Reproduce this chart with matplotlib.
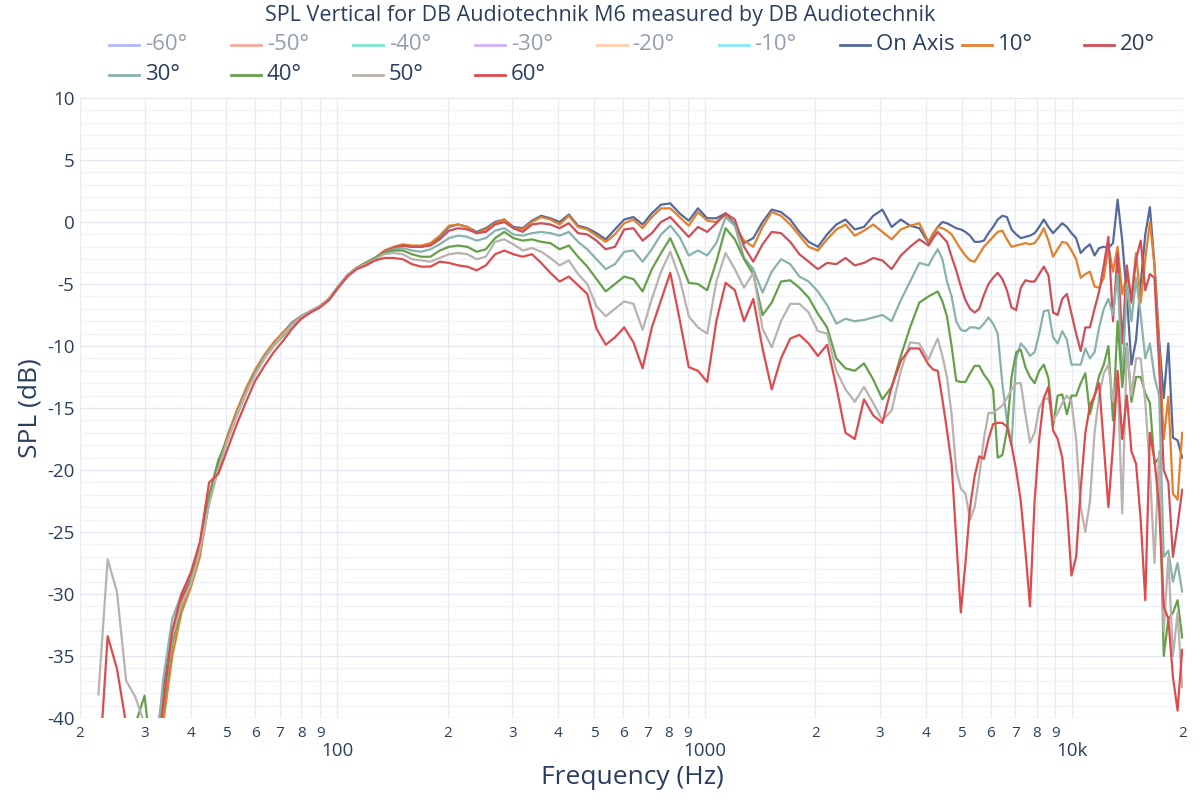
import matplotlib
matplotlib.use("Agg")
import matplotlib.pyplot as plt
from matplotlib.lines import Line2D

plt.rcParams['font.family'] = ['Open Sans', 'DejaVu Sans']

TITLE = "SPL Vertical for DB Audiotechnik M6 measured by DB Audiotechnik"
X_LABEL = "Frequency (Hz)"
Y_LABEL = "SPL (dB)"

freq = [
    22.45, 23.78, 25.20, 26.70, 28.28, 29.97, 31.75, 33.64, 35.64, 37.76,
    40.00, 42.38, 44.90, 47.57, 50.40, 53.39, 56.57, 59.93, 63.50, 67.27,
    71.27, 75.51, 80.00, 84.76, 89.80, 95.14, 100.8, 106.8, 113.1, 119.9,
    127.0, 134.5, 142.5, 151.0, 160.0, 169.5, 179.6, 190.3, 201.6, 213.6,
    226.3, 239.7, 254.0, 269.1, 285.1, 302.0, 320.0, 339.0, 359.2, 380.5,
    403.2, 427.1, 452.5, 479.5, 508.0, 538.2, 570.2, 604.1, 640.0, 678.1,
    718.4, 761.1, 806.3, 854.3, 905.1, 958.9, 1016, 1076, 1140, 1208,
    1280, 1356, 1437, 1522, 1613, 1709, 1810, 1918, 2032, 2153,
    2281, 2416, 2560, 2712, 2874, 3044, 3225, 3417, 3620, 3836,
    4064, 4183, 4305, 4432, 4561, 4695, 4833, 4974, 5120, 5270,
    5424, 5583, 5747, 5915, 6089, 6267, 6451, 6640, 6834, 7034,
    7241, 7453, 7671, 7896, 8127,
    8365, 8611, 8863, 9123, 9390, 9665, 9948, 10240, 10540, 10849,
    11167, 11494, 11830, 12177, 12534, 12902, 13280, 13669, 14069, 14482,
    14906, 15343, 15792, 16255, 16731, 17222, 17726, 18245, 18780, 19330,
    19896,
]

on_axis = [
    -45, -45, -45, -45, -45, -45, -43, -38.0, -33.0, -30.3,
    -28.8, -26.5, -22.5, -19.6, -17.3, -15.3, -13.5, -12.0, -10.8, -9.8,
    -9.0, -8.1, -7.6, -7.2, -6.8, -6.2, -5.2, -4.3, -3.7, -3.3,
    -2.9, -2.4, -2.1, -1.9, -2.0, -2.0, -1.8, -1.2, -0.4, -0.2,
    -0.4, -0.8, -0.5, 0.0, 0.2, -0.4, -0.5, 0.1, 0.5, 0.3,
    0.0, 0.6, -0.3, -0.5, -0.9, -1.4, -0.6, 0.2, 0.4, -0.2,
    0.7, 1.4, 1.5, 0.7, 0.1, 1.1, 0.3, 0.3, 0.7, -0.2,
    -1.7, -1.3, 0.0, 1.0, 0.8, 0.2, -0.8, -1.6, -2.0, -1.0,
    -0.2, 0.2, -0.6, -0.4, 0.5, 1.0, -0.4, 0.2, -0.3, -0.5,
    -1.7, -1.0, -0.4, 0.0, -0.1, -0.3, -0.5, -0.6, -0.8, -1.1,
    -1.6, -1.6, -1.5, -0.9, -0.4, 0.2, 0.5, 0.4, -0.6, -1.0,
    -1.3, -1.2, -1.1, -0.9, -0.4,
    0.2, -0.4, -0.9, -0.5, -0.1, -0.4, -0.9, -1.3, -2.5, -2.1,
    -1.8, -2.7, -2.1, -2.0, -2.1, -1.7, 1.8, -1.5, -6.0, -11.5,
    -9.5, -5.0, -1.0, 1.2, -3.5, -9.5, -14.2, -9.8, -17.4, -17.6,
    -19.0,
]

deg10 = [
    -45, -45, -45, -45, -45, -45, -45, -40.5, -35.0, -31.5,
    -29.5, -27.0, -22.5, -19.5, -17.2, -15.2, -13.4, -11.9, -10.7, -9.7,
    -8.9, -8.1, -7.6, -7.2, -6.8, -6.2, -5.2, -4.3, -3.7, -3.3,
    -2.9, -2.3, -2.0, -1.8, -1.9, -1.9, -1.7, -1.1, -0.3, -0.2,
    -0.4, -0.9, -0.6, -0.1, 0.2, -0.5, -0.6, 0.0, 0.4, 0.2,
    -0.2, 0.5, -0.4, -0.6, -1.1, -1.6, -1.0, -0.1, 0.2, -0.5,
    0.4, 1.1, 1.1, 0.4, -0.3, 0.8, 0.1, 0.0, 0.6, -0.3,
    -1.5, -2.0, -0.4, 0.8, 0.5, -0.2, -1.1, -2.0, -2.3, -1.4,
    -0.6, -0.2, -1.1, -0.7, -0.2, -0.8, -1.4, -0.6, -0.3, -0.1,
    -1.6, -0.9, -0.4, -0.5, -0.7, -1.0, -1.6, -2.2, -2.7, -3.1,
    -3.2, -2.6, -2.0, -1.6, -1.2, -0.8, -0.7, -1.4, -2.0, -1.9,
    -1.8, -1.7, -1.8, -1.7, -1.2,
    -0.5, -1.5, -2.8, -2.2, -1.6, -1.7, -2.3, -3.0, -4.5, -4.2,
    -4.0, -5.2, -5.3, -4.5, -2.0, -4.0, -2.0, -5.8, -4.3, -6.0,
    -2.5, -6.5, -3.0, 0.0, -3.5, -10.0, -17.5, -14.1, -21.9, -22.4,
    -17.0,
]

deg20 = [
    -45, -45, -45, -45, -45, -45, -45, -38.5, -33.5, -30.5,
    -28.8, -26.3, -22.5, -19.7, -17.5, -15.5, -13.7, -12.1, -10.9, -9.9,
    -9.1, -8.2, -7.6, -7.2, -6.8, -6.2, -5.2, -4.3, -3.7, -3.3,
    -2.9, -2.4, -2.1, -1.9, -2.0, -2.0, -1.9, -1.4, -0.7, -0.5,
    -0.6, -0.9, -0.8, -0.2, 0.0, -0.5, -0.8, -0.2, -0.1, -0.2,
    -0.5, -0.1, -0.9, -1.0, -1.5, -2.2, -2.0, -0.6, -0.5, -1.5,
    -0.9, 0.0, 0.4, -0.4, -1.2, -0.4, -0.8, -0.1, 0.7, 0.2,
    -2.0, -3.2, -1.8, -0.8, -0.9, -1.6, -2.6, -3.2, -3.8, -3.3,
    -3.4, -2.9, -3.5, -3.3, -2.9, -3.1, -3.8, -2.7, -2.0, -1.4,
    -1.9, -1.3, -0.8, -1.2, -1.6, -2.8, -3.9, -5.2, -6.3, -7.0,
    -7.3, -7.0, -5.9, -5.0, -4.5, -4.1, -4.6, -5.5, -6.9, -7.1,
    -5.3, -4.7, -4.8, -4.8, -4.2,
    -3.6, -4.3, -7.3, -7.5, -6.2, -5.8, -7.4, -9.0, -10.4, -8.5,
    -8.5, -7.0, -5.6, -3.5, -1.2, -8.0, -2.5, -9.8, -3.5, -6.5,
    -3.0, -1.5, -5.5, -4.2, -4.5, -11.5, -20.0, -21.0, -27.0, -24.5,
    -21.6,
]

deg30 = [
    -45, -45, -45, -45, -45, -45, -45, -37.0, -32.0, -30.0,
    -28.5, -26.2, -22.6, -19.8, -17.6, -15.5, -13.7, -12.1, -10.9, -9.9,
    -9.1, -8.2, -7.6, -7.2, -6.8, -6.2, -5.2, -4.3, -3.7, -3.3,
    -2.9, -2.5, -2.2, -2.1, -2.3, -2.4, -2.2, -1.8, -1.3, -1.1,
    -1.2, -1.5, -1.3, -0.7, -0.5, -1.0, -1.1, -0.9, -0.8, -0.9,
    -1.1, -0.8, -1.6, -2.2, -3.0, -3.8, -3.4, -2.4, -2.3, -3.2,
    -2.2, -1.0, -0.3, -1.2, -2.7, -2.3, -2.7, -1.7, 0.4, -0.3,
    -2.9, -3.8, -5.7, -4.0, -3.0, -3.4, -4.4, -4.8, -5.6, -6.7,
    -8.2, -7.8, -8.0, -7.9, -7.7, -7.5, -8.0, -6.3, -4.8, -3.3,
    -3.5, -2.8, -2.2, -3.0, -4.8, -6.0, -8.0, -8.7, -8.8, -8.5,
    -8.5, -8.6, -8.2, -7.7, -8.2, -9.0, -13.0, -16.0, -18.0, -11.0,
    -9.8, -10.2, -10.8, -10.5, -9.0,
    -7.2, -7.1, -9.3, -9.8, -8.8, -9.5, -11.5, -11.5, -11.5, -10.2,
    -11.0, -10.5, -8.5, -7.0, -6.2, -7.5, -4.2, -13.0, -5.0, -8.0,
    -4.5, -7.5, -11.0, -9.8, -12.5, -14.0, -27.0, -26.5, -29.0, -27.5,
    -29.8,
]

deg40 = [
    -45, -45, -45, -45, -40.5, -38.2, -45, -39.5, -34.0, -31.0,
    -29.0, -26.0, -22.0, -19.2, -17.5, -15.6, -13.8, -12.2, -11.0, -10.0,
    -9.2, -8.3, -7.7, -7.2, -6.8, -6.2, -5.2, -4.3, -3.7, -3.3,
    -2.9, -2.5, -2.3, -2.3, -2.6, -2.8, -2.8, -2.3, -2.0, -1.9,
    -2.0, -2.4, -2.2, -1.3, -0.8, -1.3, -1.5, -1.4, -1.6, -1.7,
    -2.2, -1.9, -2.8, -3.6, -4.6, -5.6, -5.0, -4.4, -4.6, -5.6,
    -3.8, -2.5, -1.3, -3.0, -4.9, -5.0, -5.5, -3.2, -0.5, -1.4,
    -3.0, -4.2, -7.5, -6.5, -4.8, -4.7, -5.3, -6.1, -7.4, -8.5,
    -11.0, -11.8, -12.0, -11.4, -12.7, -14.3, -13.3, -10.8, -8.5, -6.5,
    -6.0, -5.8, -5.6, -6.4, -7.6, -10.0, -12.8, -12.9, -12.9, -12.2,
    -11.6, -11.6, -12.3, -12.8, -13.5, -19.0, -18.8, -16.8, -12.5, -10.5,
    -10.3, -11.7, -12.5, -13.0, -12.0,
    -11.5, -12.6, -16.5, -14.0, -13.9, -15.5, -14.0, -14.0, -13.0, -12.2,
    -15.5, -14.0, -12.4, -11.5, -10.0, -16.0, -8.0, -13.3, -9.8, -14.5,
    -12.5, -12.5, -13.8, -14.6, -19.5, -19.0, -35.0, -32.0, -31.5, -30.5,
    -33.5,
]

deg50 = [
    -38.1, -27.2, -29.8, -37.0, -38.3, -40.5, -45, -39.0, -33.5, -30.8,
    -29.2, -26.5, -22.8, -19.9, -17.6, -15.6, -13.8, -12.3, -11.0, -10.0,
    -9.1, -8.3, -7.7, -7.2, -6.8, -6.2, -5.2, -4.3, -3.7, -3.4,
    -3.0, -2.6, -2.5, -2.6, -3.0, -3.1, -3.2, -2.9, -2.6, -2.5,
    -2.6, -3.0, -2.8, -1.6, -1.4, -1.8, -2.3, -2.1, -2.4, -2.9,
    -3.5, -3.1, -4.2, -5.0, -6.8, -7.6, -7.0, -6.4, -6.6, -8.7,
    -6.2, -4.0, -2.4, -4.5, -7.6, -8.5, -9.0, -4.8, -2.5, -3.8,
    -5.3, -4.1, -8.6, -10.1, -8.0, -6.6, -6.6, -7.3, -8.8, -9.0,
    -12.0, -13.5, -14.5, -13.3, -14.6, -16.0, -15.2, -12.0, -9.7, -9.8,
    -11.1, -10.2, -9.4, -10.8, -12.5, -15.5, -20.0, -21.5, -21.9, -24.0,
    -23.0, -20.5, -17.5, -15.4, -15.4, -15.1, -14.8, -14.2, -13.5, -13.0,
    -13.0, -15.5, -17.8, -17.0, -15.0,
    -14.3, -14.2, -16.0, -15.4, -14.6, -14.0, -14.5, -17.5, -23.0, -25.0,
    -22.5, -17.0, -14.0, -12.2, -11.5, -14.5, -12.5, -23.5, -10.0, -14.0,
    -11.0, -11.0, -14.5, -20.0, -27.5, -18.5, -33.0, -27.0, -35.0, -31.5,
    -37.5,
]

deg60 = [
    -45, -33.4, -36.0, -40.5, -45, -45, -45, -39.0, -33.0, -30.0,
    -28.3, -25.8, -21.0, -20.3, -18.3, -16.3, -14.5, -12.8, -11.6, -10.5,
    -9.6, -8.6, -7.8, -7.3, -6.9, -6.3, -5.3, -4.4, -3.8, -3.5,
    -3.1, -2.9, -2.9, -3.0, -3.4, -3.6, -3.6, -3.2, -3.3, -3.5,
    -3.6, -3.9, -3.5, -2.6, -2.3, -2.6, -2.8, -2.6, -3.3, -4.1,
    -4.8, -4.4, -5.1, -5.8, -8.6, -9.9, -9.3, -8.5, -9.7, -11.8,
    -8.5, -6.3, -4.1, -7.8, -11.7, -12.0, -12.9, -8.0, -4.9, -5.5,
    -8.0, -6.2, -10.2, -13.5, -11.0, -9.4, -9.1, -9.8, -10.8, -9.9,
    -13.3, -17.0, -17.5, -14.3, -15.6, -16.2, -13.3, -11.2, -10.2, -10.2,
    -11.5, -11.9, -12.0, -14.3, -16.8, -19.5, -25.5, -31.5, -27.5, -23.0,
    -20.5, -18.9, -19.1, -17.5, -16.3, -16.2, -16.2, -16.5, -18.0, -20.0,
    -22.5, -26.5, -31.0, -22.5, -17.5,
    -14.2, -13.3, -16.8, -17.5, -19.0, -23.0, -28.5, -27.0, -21.5, -17.0,
    -14.8, -14.0, -13.0, -18.0, -23.0, -18.0, -12.0, -17.5, -14.0, -18.5,
    -19.5, -24.0, -30.5, -17.0, -19.2, -23.0, -31.0, -32.0, -36.7, -39.4,
    -34.5,
]

hidden_labels = ['-60°', '-50°', '-40°', '-30°', '-20°', '-10°']
hidden_colors = ['#636efa', '#EF553B', '#00cc96', '#ab63fa', '#FFA15A', '#19d3f3']

visible_labels = ['On Axis', '10°', '20°', '30°', '40°', '50°', '60°']
visible_series = [on_axis, deg10, deg20, deg30, deg40, deg50, deg60]
visible_colors = ['#56699c', '#e2802c', '#cf4f58', '#89b2aa', '#66a049', '#b9b2ae', '#df4a4c']

for s in visible_series:
    assert len(s) == len(freq), (len(s), len(freq))

TEXT = '#2a3f5f'
W, H = 1200, 800
fig = plt.figure(figsize=(12, 8), dpi=100)
ax = fig.add_axes([80 / W, 1 - 718 / H, 1103 / W, 620 / H])
ax.set_xscale('log')
ax.set_xlim(20, 20000)
ax.set_ylim(-40, 10)
for sp in ax.spines.values():
    sp.set_visible(False)

# ticks and grid
major_x = [100, 1000, 10000]
major_x_lbl = ['100', '1000', '10k']
minor_x = [m * d for d in (10, 100, 1000) for m in range(2, 10)] + [20000]
minor_x = [v for v in minor_x if v >= 20]
minor_x_lbl = [str(int(v))[0] for v in minor_x]
ax.set_xticks(major_x)
ax.set_xticklabels(major_x_lbl)
ax.set_xticks(minor_x, minor=True)
ax.set_xticklabels(minor_x_lbl, minor=True)
ax.set_yticks(list(range(-40, 11, 5)))
ax.set_yticklabels([str(v) for v in range(-40, 11, 5)])
ax.set_yticks(list(range(-40, 11, 1)), minor=True)

ax.tick_params(axis='x', which='major', length=0, pad=17, labelsize=13.5, colors=TEXT)
ax.tick_params(axis='x', which='minor', length=0, pad=6, labelsize=11, colors=TEXT)
ax.tick_params(axis='y', which='both', length=0, pad=4, labelsize=13.5, colors=TEXT)

ax.grid(True, axis='x', which='both', color='#e6ebf2', linewidth=1.0)
ax.grid(True, axis='y', which='major', color='#e3e8f0', linewidth=1.0)
ax.grid(True, axis='y', which='minor', color='#eff2f7', linewidth=1.0)
ax.set_axisbelow(True)

for lbl, ser, col in zip(visible_labels, visible_series, visible_colors):
    ax.plot(freq, ser, color=col, linewidth=1.6, label=lbl, zorder=3)

# titles
fig.text(600 / W, 1 - 16 / H, TITLE, ha='center', va='center', fontsize=15.5, color=TEXT)
fig.text(632 / W, 1 - 778 / H, X_LABEL, ha='center', va='center', fontsize=19, color=TEXT)
fig.text(30 / W, 1 - 408 / H, Y_LABEL, ha='center', va='center', rotation=90, fontsize=19, color=TEXT)

# legend (plotly style, horizontal, 9 per row)
all_labels = hidden_labels + visible_labels
all_colors = hidden_colors + visible_colors
for i, (lbl, col) in enumerate(zip(all_labels, all_colors)):
    row, c = divmod(i, 9)
    x0 = 109 + 121.9 * c
    y = 45 + 30 * row
    alpha = 0.5 if i < len(hidden_labels) else 1.0
    fig.add_artist(Line2D([x0 / W, (x0 + 30) / W], [1 - y / H, 1 - y / H],
                          color=col, linewidth=2, alpha=alpha))
    fig.text((x0 + 36) / W, 1 - y / H, lbl, ha='left', va='center',
             fontsize=16, color=TEXT, alpha=alpha)

fig.savefig('out.png', dpi=100)
